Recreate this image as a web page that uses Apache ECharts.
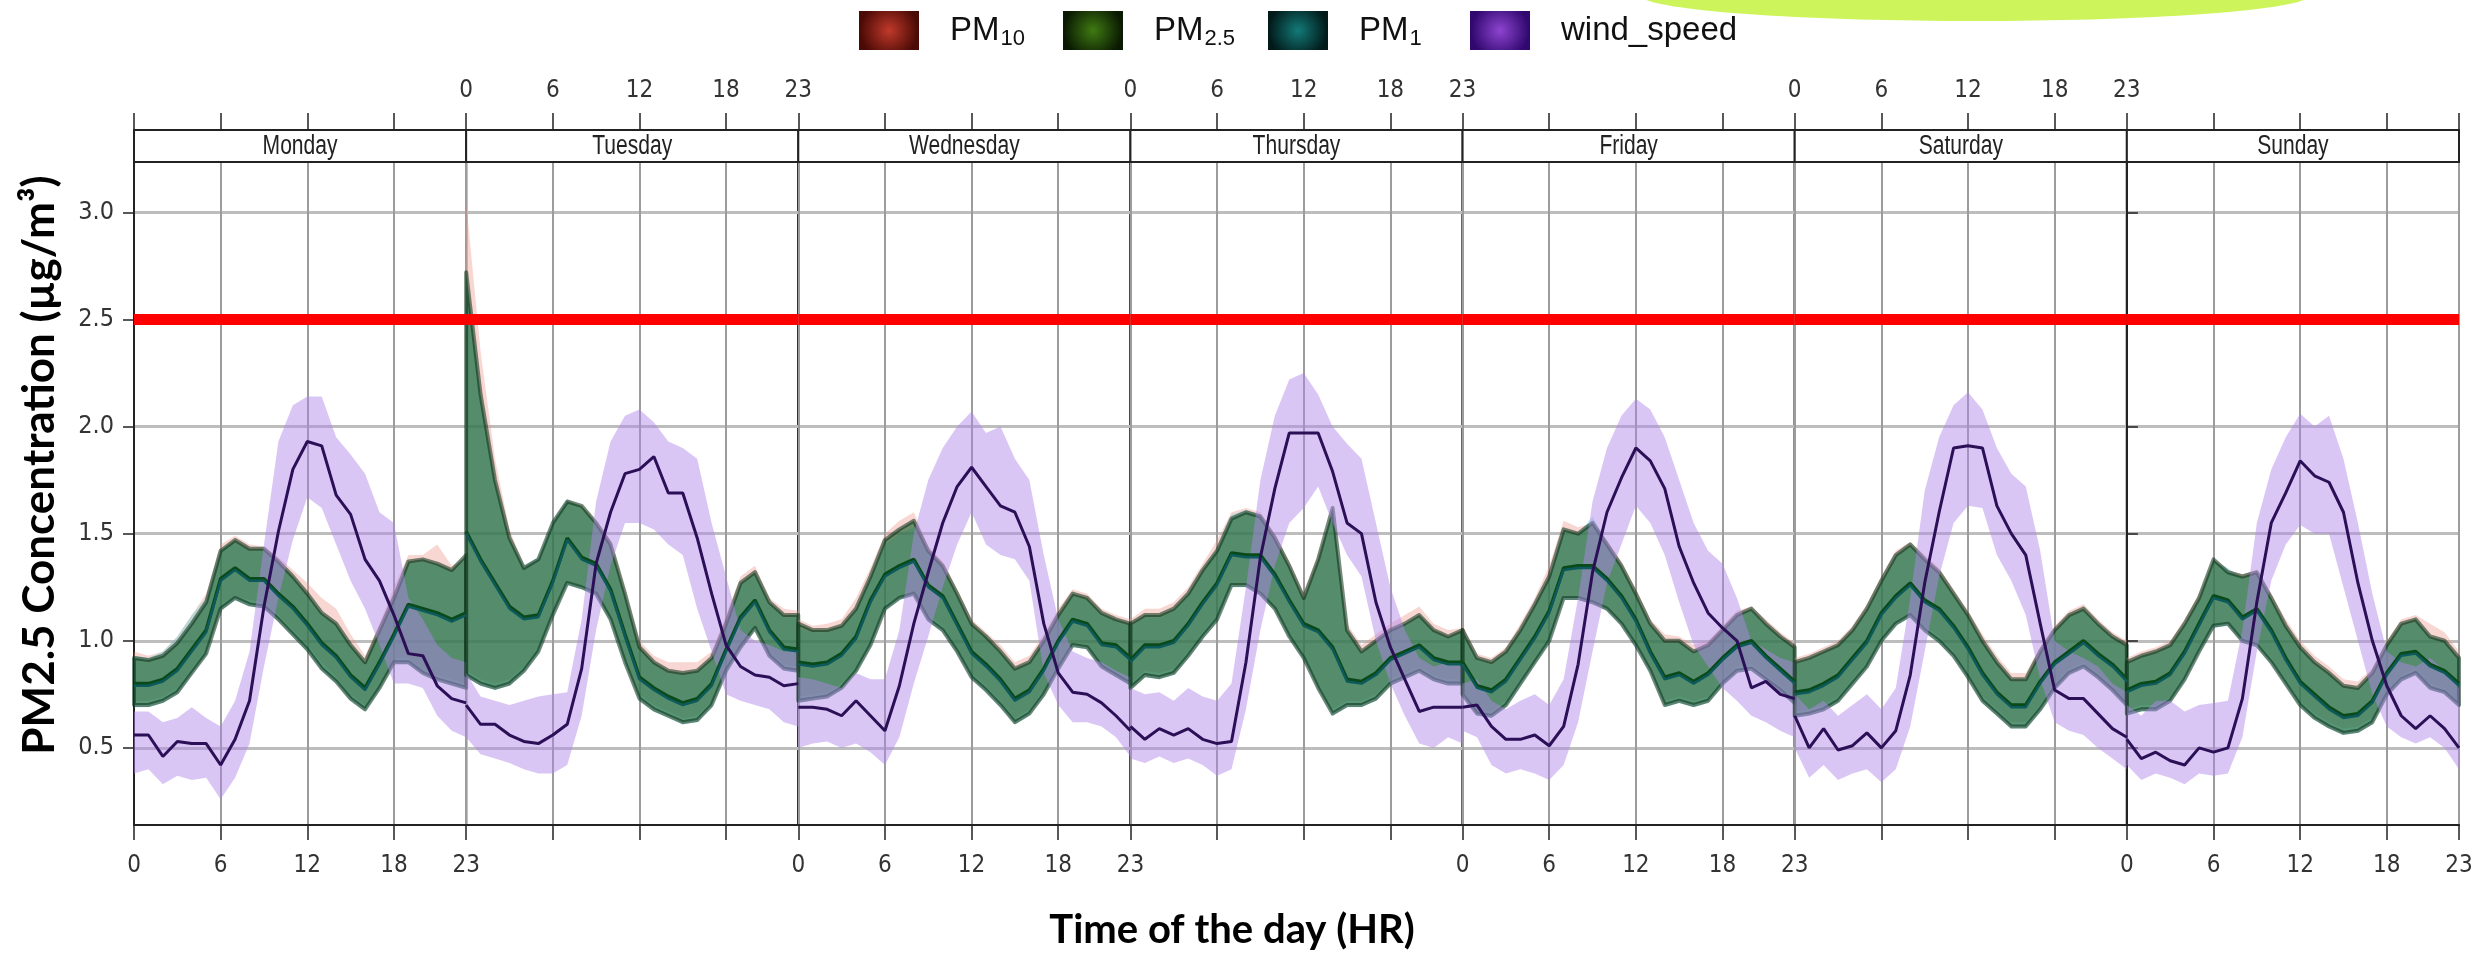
<!DOCTYPE html>
<html lang="en">
  <head>
    <meta charset="UTF-8" />
    <title>PM diurnal variation by weekday</title>
    <style>
      html, body { margin: 0; padding: 0; background: #fff; }
      #chart { width: 2476px; height: 954px; }
    </style>
  </head>
  <body>
    <div id="chart"></div>

    <script src="https://cdn.jsdelivr.net/npm/echarts@6/dist/echarts.min.js"></script>
    <script>
      // categories / ticks
      const days = ['Monday', 'Tuesday', 'Wednesday', 'Thursday', 'Friday', 'Saturday', 'Sunday'];
      const hours = [0, 1, 2, 3, 4, 5, 6, 7, 8, 9, 10, 11, 12, 13, 14, 15, 16, 17, 18, 19, 20, 21, 22, 23];
      const yTicks = [0.5, 1.0, 1.5, 2.0, 2.5, 3.0];
      const limitValue = 2.5;

      // PM2.5 mean and confidence band, one row per day (hour 0..23)
      const pm25Mean = [
        [0.80,0.80,0.82,0.87,0.96,1.05,1.29,1.34,1.29,1.29,1.22,1.16,1.08,0.99,0.93,0.84,0.78,0.90,1.03,1.17,1.15,1.13,1.10,1.13],
        [1.51,1.38,1.27,1.16,1.11,1.12,1.28,1.48,1.39,1.36,1.24,1.03,0.83,0.78,0.74,0.71,0.73,0.80,0.96,1.11,1.19,1.05,0.97,0.96],
        [0.90,0.89,0.90,0.94,1.02,1.19,1.31,1.35,1.38,1.26,1.21,1.08,0.95,0.89,0.82,0.73,0.77,0.87,1.00,1.10,1.08,0.99,0.98,0.92],
        [0.91,0.98,0.98,1.00,1.08,1.18,1.27,1.41,1.40,1.40,1.31,1.19,1.08,1.05,0.97,0.82,0.81,0.85,0.92,0.95,0.98,0.92,0.90,0.90],
        [0.90,0.79,0.77,0.82,0.92,1.02,1.14,1.34,1.35,1.35,1.29,1.21,1.10,0.95,0.83,0.85,0.81,0.85,0.92,0.98,1.00,0.93,0.87,0.81],
        [0.76,0.77,0.80,0.84,0.92,1.00,1.13,1.21,1.27,1.19,1.15,1.07,0.97,0.85,0.76,0.70,0.70,0.81,0.90,0.95,1.00,0.94,0.89,0.82],
        [0.77,0.80,0.81,0.85,0.95,1.08,1.21,1.19,1.11,1.15,1.05,0.92,0.81,0.75,0.69,0.65,0.66,0.72,0.85,0.94,0.95,0.89,0.86,0.80]
      ];
      const pm25Lo = [
        [0.70,0.70,0.72,0.76,0.85,0.94,1.15,1.20,1.17,1.16,1.10,1.03,0.96,0.87,0.81,0.73,0.68,0.78,0.90,0.90,0.85,0.82,0.80,0.78],
        [0.84,0.80,0.78,0.80,0.86,0.95,1.12,1.27,1.25,1.22,1.10,0.90,0.73,0.68,0.65,0.62,0.63,0.70,0.86,0.97,1.06,0.93,0.87,0.86],
        [0.72,0.73,0.74,0.78,0.86,0.98,1.15,1.20,1.22,1.10,1.05,0.95,0.83,0.77,0.70,0.62,0.66,0.75,0.87,0.98,0.97,0.88,0.84,0.80],
        [0.78,0.84,0.83,0.85,0.93,1.02,1.10,1.26,1.26,1.22,1.15,1.02,0.92,0.78,0.66,0.70,0.70,0.73,0.80,0.83,0.86,0.82,0.80,0.80],
        [0.75,0.66,0.65,0.70,0.80,0.90,1.00,1.20,1.20,1.18,1.15,1.08,0.98,0.86,0.70,0.72,0.70,0.72,0.80,0.86,0.87,0.82,0.77,0.71],
        [0.65,0.66,0.68,0.72,0.80,0.88,1.00,1.08,1.12,1.05,1.00,0.93,0.83,0.72,0.66,0.60,0.60,0.68,0.78,0.85,0.88,0.83,0.77,0.70],
        [0.66,0.68,0.68,0.72,0.82,0.95,1.07,1.08,1.00,0.98,0.90,0.80,0.70,0.64,0.60,0.57,0.58,0.62,0.75,0.82,0.85,0.78,0.76,0.70]
      ];
      const pm25Hi = [
        [0.92,0.91,0.93,0.99,1.08,1.18,1.42,1.47,1.43,1.43,1.37,1.30,1.22,1.13,1.08,0.98,0.90,1.05,1.20,1.37,1.38,1.36,1.33,1.40],
        [2.72,2.15,1.75,1.48,1.34,1.38,1.55,1.65,1.63,1.55,1.45,1.22,0.97,0.90,0.86,0.85,0.86,0.92,1.08,1.27,1.32,1.18,1.12,1.12],
        [1.08,1.05,1.05,1.07,1.15,1.30,1.47,1.52,1.56,1.42,1.35,1.22,1.08,1.02,0.95,0.87,0.90,1.00,1.12,1.22,1.20,1.13,1.10,1.08],
        [1.08,1.12,1.12,1.15,1.22,1.33,1.42,1.57,1.60,1.58,1.48,1.35,1.20,1.38,1.62,1.05,0.95,1.00,1.05,1.08,1.12,1.05,1.02,1.05],
        [1.05,0.92,0.90,0.95,1.05,1.17,1.30,1.52,1.50,1.55,1.45,1.35,1.22,1.08,1.00,1.00,0.95,0.98,1.05,1.12,1.15,1.08,1.02,0.97],
        [0.90,0.92,0.95,0.98,1.05,1.15,1.28,1.40,1.45,1.38,1.32,1.22,1.12,1.00,0.90,0.82,0.82,0.95,1.05,1.12,1.15,1.08,1.02,0.98],
        [0.90,0.93,0.95,0.98,1.08,1.20,1.38,1.32,1.30,1.32,1.20,1.07,0.97,0.90,0.85,0.79,0.78,0.85,0.98,1.08,1.10,1.02,1.00,0.92]
      ];

      // PM10 band
      const pm10Lo = [
        [0.72,0.72,0.74,0.78,0.87,0.96,1.17,1.21,1.19,1.18,1.12,1.05,0.98,0.90,0.83,0.75,0.70,0.80,0.92,0.92,0.87,0.84,0.82,0.80],
        [0.86,0.82,0.80,0.82,0.88,0.97,1.14,1.28,1.26,1.23,1.12,0.92,0.75,0.70,0.67,0.64,0.65,0.72,0.88,0.98,1.07,0.95,0.89,0.88],
        [0.74,0.75,0.76,0.80,0.88,1.00,1.17,1.21,1.23,1.12,1.07,0.97,0.85,0.79,0.72,0.64,0.68,0.77,0.89,0.99,0.98,0.90,0.86,0.82],
        [0.80,0.86,0.85,0.87,0.95,1.04,1.12,1.27,1.27,1.23,1.16,1.04,0.94,0.80,0.68,0.72,0.72,0.75,0.82,0.85,0.88,0.84,0.82,0.82],
        [0.77,0.68,0.67,0.72,0.82,0.92,1.02,1.21,1.21,1.19,1.16,1.09,1.00,0.88,0.72,0.74,0.72,0.74,0.82,0.88,0.89,0.84,0.79,0.73],
        [0.67,0.68,0.70,0.74,0.82,0.90,1.02,1.09,1.13,1.07,1.02,0.95,0.85,0.74,0.68,0.62,0.62,0.70,0.80,0.87,0.90,0.85,0.79,0.72],
        [0.68,0.70,0.70,0.74,0.84,0.97,1.08,1.09,1.02,1.00,0.92,0.82,0.72,0.66,0.62,0.59,0.60,0.64,0.77,0.84,0.87,0.80,0.78,0.72]
      ];
      const pm10Hi = [
        [0.95,0.93,0.95,1.02,1.12,1.22,1.45,1.49,1.45,1.44,1.39,1.33,1.27,1.20,1.15,1.03,0.93,1.08,1.25,1.40,1.40,1.45,1.35,1.38],
        [3.05,2.35,1.85,1.52,1.35,1.38,1.55,1.66,1.63,1.56,1.47,1.24,1.00,0.93,0.90,0.90,0.90,0.95,1.12,1.30,1.35,1.20,1.15,1.14],
        [1.10,1.07,1.08,1.10,1.20,1.34,1.50,1.56,1.60,1.44,1.37,1.24,1.10,1.04,0.98,0.90,0.93,1.03,1.15,1.24,1.22,1.15,1.12,1.10],
        [1.10,1.15,1.15,1.18,1.25,1.36,1.47,1.60,1.62,1.60,1.50,1.37,1.22,1.40,1.60,1.08,0.98,1.03,1.08,1.12,1.16,1.08,1.05,1.06],
        [1.07,0.94,0.92,0.97,1.08,1.20,1.35,1.56,1.53,1.55,1.47,1.37,1.24,1.10,1.03,1.02,0.98,1.00,1.07,1.14,1.16,1.10,1.04,0.99],
        [0.92,0.94,0.97,1.00,1.07,1.17,1.30,1.42,1.46,1.40,1.34,1.24,1.14,1.03,0.93,0.85,0.85,0.97,1.07,1.14,1.17,1.10,1.04,1.00],
        [0.92,0.95,0.97,1.00,1.10,1.22,1.38,1.33,1.31,1.33,1.22,1.10,1.00,0.93,0.88,0.82,0.81,0.87,1.00,1.10,1.12,1.08,1.04,0.95]
      ];

      // PM1 mean and band
      const pm1Mean = [
        [0.79,0.79,0.81,0.86,0.95,1.04,1.28,1.33,1.28,1.28,1.21,1.15,1.07,0.98,0.92,0.83,0.77,0.89,1.02,1.16,1.14,1.12,1.09,1.12],
        [1.50,1.37,1.26,1.15,1.10,1.11,1.27,1.47,1.38,1.35,1.23,1.02,0.82,0.77,0.73,0.70,0.72,0.79,0.95,1.10,1.18,1.04,0.96,0.95],
        [0.89,0.88,0.89,0.93,1.01,1.18,1.30,1.34,1.37,1.25,1.20,1.07,0.94,0.88,0.81,0.72,0.76,0.86,0.99,1.09,1.07,0.98,0.97,0.91],
        [0.90,0.97,0.97,0.99,1.07,1.17,1.26,1.40,1.39,1.39,1.30,1.18,1.07,1.04,0.96,0.81,0.80,0.84,0.91,0.94,0.97,0.91,0.89,0.89],
        [0.89,0.78,0.76,0.81,0.91,1.01,1.13,1.33,1.34,1.34,1.28,1.20,1.09,0.94,0.82,0.84,0.80,0.84,0.91,0.97,0.99,0.92,0.86,0.80],
        [0.75,0.76,0.79,0.83,0.91,0.99,1.12,1.20,1.26,1.18,1.14,1.06,0.96,0.84,0.75,0.69,0.69,0.80,0.89,0.94,0.99,0.93,0.88,0.81],
        [0.76,0.79,0.80,0.84,0.94,1.07,1.20,1.18,1.10,1.14,1.04,0.91,0.80,0.74,0.68,0.64,0.65,0.71,0.84,0.93,0.94,0.88,0.85,0.79]
      ];
      const pm1Lo = [
        [0.69,0.69,0.71,0.75,0.84,0.93,1.14,1.19,1.16,1.15,1.09,1.02,0.95,0.86,0.80,0.72,0.67,0.77,0.89,0.89,0.84,0.81,0.79,0.77],
        [0.83,0.79,0.77,0.79,0.85,0.94,1.11,1.26,1.24,1.21,1.09,0.89,0.72,0.67,0.64,0.61,0.62,0.69,0.85,0.96,1.05,0.92,0.86,0.85],
        [0.71,0.72,0.73,0.77,0.85,0.97,1.14,1.19,1.21,1.09,1.04,0.94,0.82,0.76,0.69,0.61,0.65,0.74,0.86,0.97,0.96,0.87,0.83,0.79],
        [0.77,0.83,0.82,0.84,0.92,1.01,1.09,1.25,1.25,1.21,1.14,1.01,0.91,0.77,0.65,0.69,0.69,0.72,0.79,0.82,0.85,0.81,0.79,0.79],
        [0.74,0.65,0.64,0.69,0.79,0.89,0.99,1.19,1.19,1.17,1.14,1.07,0.97,0.85,0.69,0.71,0.69,0.71,0.79,0.85,0.86,0.81,0.76,0.70],
        [0.64,0.65,0.67,0.71,0.79,0.87,0.99,1.07,1.11,1.04,0.99,0.92,0.82,0.71,0.65,0.59,0.59,0.67,0.77,0.84,0.87,0.82,0.76,0.69],
        [0.65,0.67,0.67,0.71,0.81,0.94,1.06,1.07,0.99,0.97,0.89,0.79,0.69,0.63,0.59,0.56,0.57,0.61,0.74,0.81,0.84,0.77,0.75,0.69]
      ];
      const pm1Hi = [
        [0.93,0.92,0.95,1.02,1.12,1.20,1.43,1.46,1.42,1.42,1.36,1.29,1.21,1.12,1.07,0.97,0.89,1.04,1.19,1.36,1.37,1.35,1.32,1.38],
        [2.70,2.12,1.73,1.47,1.35,1.39,1.56,1.66,1.62,1.54,1.44,1.21,0.96,0.89,0.85,0.84,0.85,0.91,1.07,1.26,1.31,1.17,1.11,1.11],
        [1.06,1.04,1.04,1.06,1.14,1.29,1.45,1.50,1.53,1.41,1.34,1.21,1.07,1.01,0.94,0.86,0.89,0.99,1.11,1.21,1.19,1.12,1.09,1.07],
        [1.07,1.11,1.11,1.14,1.21,1.32,1.43,1.59,1.61,1.59,1.47,1.34,1.19,1.36,1.60,1.04,0.94,0.99,1.04,1.07,1.11,1.04,1.01,1.04],
        [1.04,0.91,0.89,0.94,1.04,1.16,1.29,1.51,1.50,1.58,1.46,1.34,1.21,1.07,0.99,0.99,0.94,0.97,1.04,1.11,1.14,1.07,1.01,0.96],
        [0.89,0.91,0.94,0.97,1.04,1.14,1.27,1.39,1.44,1.37,1.31,1.21,1.11,0.99,0.89,0.81,0.81,0.94,1.04,1.11,1.14,1.07,1.01,0.97],
        [0.89,0.92,0.94,0.97,1.07,1.19,1.37,1.34,1.29,1.31,1.19,1.06,0.96,0.89,0.84,0.78,0.77,0.84,0.97,1.07,1.09,1.01,0.99,0.91]
      ];

      // wind speed mean and band
      const windMean = [
        [0.56,0.56,0.46,0.53,0.52,0.52,0.42,0.54,0.72,1.16,1.51,1.80,1.93,1.91,1.68,1.59,1.38,1.28,1.12,0.94,0.93,0.79,0.73,0.71],
        [0.70,0.61,0.61,0.56,0.53,0.52,0.56,0.61,0.87,1.36,1.60,1.78,1.80,1.86,1.69,1.69,1.48,1.22,0.98,0.88,0.84,0.83,0.79,0.80],
        [0.69,0.69,0.68,0.65,0.72,0.65,0.58,0.79,1.08,1.32,1.55,1.72,1.81,1.72,1.63,1.60,1.44,1.08,0.85,0.76,0.75,0.71,0.65,0.58],
        [0.60,0.54,0.59,0.56,0.59,0.54,0.52,0.53,0.90,1.39,1.71,1.97,1.97,1.97,1.79,1.55,1.50,1.18,0.97,0.82,0.67,0.69,0.69,0.69],
        [0.69,0.70,0.60,0.54,0.54,0.56,0.51,0.60,0.89,1.32,1.60,1.76,1.90,1.84,1.71,1.44,1.27,1.13,1.06,1.00,0.78,0.81,0.75,0.73],
        [0.65,0.50,0.59,0.49,0.51,0.57,0.50,0.58,0.84,1.27,1.60,1.90,1.91,1.90,1.63,1.50,1.40,1.08,0.77,0.73,0.73,0.66,0.59,0.55],
        [0.54,0.45,0.48,0.44,0.42,0.50,0.48,0.50,0.73,1.18,1.55,1.69,1.84,1.77,1.74,1.60,1.27,1.00,0.79,0.65,0.59,0.65,0.59,0.50]
      ];
      const windLo = [
        [0.38,0.40,0.33,0.37,0.35,0.36,0.26,0.36,0.52,0.88,1.20,1.47,1.67,1.62,1.45,1.28,1.15,0.98,0.80,0.80,0.78,0.65,0.58,0.55],
        [0.55,0.47,0.45,0.43,0.40,0.38,0.38,0.42,0.65,1.05,1.35,1.55,1.55,1.52,1.45,1.40,1.15,0.95,0.75,0.72,0.70,0.68,0.62,0.60],
        [0.50,0.52,0.53,0.50,0.52,0.48,0.42,0.55,0.80,1.02,1.25,1.45,1.60,1.45,1.40,1.38,1.28,0.85,0.70,0.62,0.62,0.60,0.55,0.46],
        [0.45,0.43,0.46,0.43,0.45,0.42,0.37,0.40,0.68,1.05,1.35,1.55,1.62,1.72,1.55,1.40,1.30,1.00,0.80,0.65,0.52,0.50,0.55,0.52],
        [0.58,0.55,0.42,0.38,0.40,0.38,0.35,0.42,0.62,0.95,1.27,1.45,1.63,1.55,1.40,1.18,0.98,0.88,0.78,0.72,0.65,0.62,0.58,0.55],
        [0.50,0.36,0.42,0.35,0.38,0.40,0.34,0.40,0.60,0.95,1.30,1.55,1.63,1.62,1.40,1.28,1.12,0.82,0.62,0.58,0.56,0.50,0.45,0.40],
        [0.42,0.35,0.38,0.36,0.33,0.38,0.37,0.38,0.55,0.95,1.28,1.45,1.54,1.50,1.50,1.25,1.00,0.75,0.60,0.55,0.52,0.55,0.50,0.40]
      ];
      const windHi = [
        [0.67,0.67,0.62,0.64,0.69,0.64,0.60,0.72,0.95,1.45,1.93,2.10,2.14,2.14,1.95,1.87,1.78,1.60,1.55,1.20,1.10,0.98,0.92,0.90],
        [0.85,0.74,0.72,0.70,0.72,0.74,0.75,0.76,1.10,1.65,1.93,2.05,2.08,2.02,1.93,1.90,1.85,1.55,1.30,1.05,1.00,0.98,0.95,0.95],
        [0.83,0.82,0.80,0.78,0.85,0.82,0.82,1.05,1.50,1.75,1.90,2.00,2.07,1.97,2.00,1.85,1.75,1.40,1.10,0.95,0.92,0.90,0.86,0.83],
        [0.78,0.75,0.76,0.72,0.78,0.74,0.72,0.80,1.25,1.75,2.05,2.22,2.25,2.15,2.00,1.92,1.85,1.55,1.25,1.05,0.92,0.88,0.90,0.88],
        [0.80,0.82,0.72,0.68,0.72,0.75,0.70,0.82,1.20,1.65,1.90,2.05,2.13,2.08,1.95,1.75,1.55,1.42,1.36,1.20,1.00,0.96,0.92,0.90],
        [0.75,0.68,0.72,0.65,0.70,0.75,0.68,0.78,1.20,1.70,1.95,2.10,2.16,2.08,1.90,1.78,1.72,1.42,1.00,0.95,0.92,0.88,0.80,0.76],
        [0.70,0.65,0.72,0.72,0.67,0.70,0.71,0.72,1.05,1.55,1.80,1.95,2.06,2.00,2.05,1.85,1.55,1.22,0.95,0.90,0.88,0.92,0.86,0.78]
      ];

      // ---- layout (pixels) ----
      const plotLeft = 134;
      const plotRight = 2459;
      const plotTop = 162;
      const plotBottom = 825;
      const stripH = 32;
      const panelW = (plotRight - plotLeft) / days.length;
      const yMin = 0.14;
      const yMax = 3.235;

      const narrow = '"Liberation Sans Narrow", "DejaVu Sans Condensed", sans-serif';
      const axisColor = '#222';

      const myChart = echarts.init(document.getElementById('chart'));

      // band drawn as one polygon through the axes' own scales
      function bandSeries(name, d, lo, hi, fill, stroke, z) {
        return {
          type: 'custom',
          name: name,
          xAxisIndex: d * 2,
          yAxisIndex: d,
          z: z,
          silent: true,
          encode: { x: 0, y: [1, 2] },
          data: hours.map((h, i) => [h, lo[d][i], hi[d][i]]),
          renderItem: function (params, api) {
            if (params.dataIndex !== 0) return null;
            const pts = [];
            hours.forEach((h, i) => pts.push(api.coord([h, hi[d][i]])));
            for (let i = hours.length - 1; i >= 0; i--) pts.push(api.coord([hours[i], lo[d][i]]));
            return {
              type: 'polygon',
              shape: { points: pts },
              style: { fill: fill, stroke: stroke, lineWidth: stroke ? 4 : 0, lineJoin: 'round' },
            };
          },
        };
      }

      function lineSeries(name, d, values, color, width, z) {
        return {
          type: 'line',
          name: name,
          xAxisIndex: d * 2,
          yAxisIndex: d,
          z: z,
          silent: true,
          symbol: 'none',
          data: hours.map((h, i) => [h, values[d][i]]),
          lineStyle: { color: color, width: width },
        };
      }

      const grids = [];
      const xAxes = [];
      const yAxes = [];
      const series = [];
      const graphics = [];

      days.forEach((day, d) => {
        const left = plotLeft + d * panelW;
        grids.push({
          left: left,
          width: panelW,
          top: plotTop,
          height: plotBottom - plotTop,
          show: true,
          borderColor: axisColor,
          borderWidth: 2,
        });

        // bottom axis: labels on Mon, Wed, Fri, Sun
        xAxes.push({
          type: 'value',
          gridIndex: d,
          min: 0,
          max: 23,
          interval: 6,
          position: 'bottom',
          axisLine: { show: true, lineStyle: { color: axisColor, width: 2 } },
          axisTick: { show: true, length: 15, lineStyle: { color: axisColor, width: 1.5 } },
          axisLabel: {
            show: d % 2 === 0,
            margin: 29,
            fontFamily: narrow,
            fontSize: 24,
            color: '#333',
          },
          splitLine: { show: true, lineStyle: { color: '#9c9c9c', width: 2 } },
        });
        // top axis above the strip: labels on Tue, Thu, Sat
        xAxes.push({
          type: 'value',
          gridIndex: d,
          min: 0,
          max: 23,
          interval: 6,
          position: 'top',
          offset: stripH,
          axisLine: { show: true, lineStyle: { color: axisColor, width: 2 } },
          axisTick: { show: true, length: 17, lineStyle: { color: axisColor, width: 1.5 } },
          axisLabel: {
            show: d % 2 === 1,
            margin: 27,
            fontFamily: narrow,
            fontSize: 24,
            color: '#333',
          },
          splitLine: { show: false },
        });

        const isFirst = d === 0;
        const isLast = d === days.length - 1;
        yAxes.push({
          type: 'value',
          gridIndex: d,
          min: yMin,
          max: yMax,
          position: isLast ? 'right' : 'left',
          axisLine: { show: isFirst || isLast, lineStyle: { color: axisColor, width: 2 } },
          axisTick: {
            show: isFirst || isLast,
            length: 11,
            customValues: yTicks,
            lineStyle: { color: axisColor, width: 1.5 },
          },
          axisLabel: {
            show: isFirst,
            customValues: yTicks,
            margin: 20,
            fontFamily: narrow,
            fontSize: 25,
            color: '#333',
            formatter: (v) => v.toFixed(1),
          },
          splitLine: { show: true, lineStyle: { color: '#bdbdbd', width: 3 } },
        });

        series.push(bandSeries('PM10', d, pm10Lo, pm10Hi, 'rgba(235,140,130,0.35)', null, 2));
        series.push(bandSeries('PM1', d, pm1Lo, pm1Hi, 'rgba(90,210,210,0.38)', null, 2));
        series.push(bandSeries('PM2.5', d, pm25Lo, pm25Hi, 'rgba(22,95,45,0.62)', 'rgba(8,45,20,0.55)', 2));
        series.push(bandSeries('wind_speed', d, windLo, windHi, 'rgba(177,133,233,0.47)', null, 2));
        series.push(lineSeries('PM2.5 mean', d, pm25Mean, '#0a4a18', 3.5, 3));
        series.push(lineSeries('PM1 mean', d, pm1Mean, '#0d5a5c', 2.5, 3));
        const wind = lineSeries('wind mean', d, windMean, '#2b0f57', 3, 4);
        wind.markLine = {
          silent: true,
          symbol: ['none', 'none'],
          label: { show: false },
          lineStyle: { color: '#ff0000', width: 11, type: 'solid' },
          data: [{ yAxis: limitValue }],
        };
        series.push(wind);

        // strip with the day name
        graphics.push({
          type: 'rect',
          shape: { x: left, y: plotTop - stripH, width: panelW, height: stripH },
          style: { fill: '#fff', stroke: axisColor, lineWidth: 2 },
          z: 1,
        });
        graphics.push({
          type: 'text',
          x: left + panelW / 2,
          y: plotTop - stripH / 2 + 1,
          scaleX: 0.78,
          style: {
            text: day,
            font: '27px "Liberation Sans", Arial, sans-serif',
            fill: '#222',
            textAlign: 'center',
            textVerticalAlign: 'middle',
          },
          z: 2,
        });
      });

      // axis titles
      graphics.push({
        type: 'text',
        x: 40,
        y: 465,
        rotation: Math.PI / 2,
        style: {
          text: 'PM2.5 Concentration (µg/m³)',
          font: 'bold 44px Lato, "Open Sans", sans-serif',
          fill: '#000',
          textAlign: 'center',
          textVerticalAlign: 'middle',
        },
      });
      graphics.push({
        type: 'text',
        x: 1232,
        y: 930,
        style: {
          text: 'Time of the day (HR)',
          font: 'bold 40px Lato, "Open Sans", sans-serif',
          fill: '#000',
          textAlign: 'center',
          textVerticalAlign: 'middle',
        },
      });
      // slide decoration at the top right
      graphics.push({
        type: 'ellipse',
        shape: { cx: 1975, cy: -5, rx: 335, ry: 26 },
        style: { fill: '#cdf55b' },
        z: 0,
      });

      function swatch(inner, outer) {
        return new echarts.graphic.RadialGradient(0.5, 0.5, 0.75, [
          { offset: 0, color: inner },
          { offset: 1, color: outer },
        ]);
      }
      const legendItems = [
        { name: 'PM10', left: 854, color: swatch('#c0392b', '#4a0a05') },
        { name: 'PM2.5', left: 1058, color: swatch('#3f7a12', '#0a1a02') },
        { name: 'PM1', left: 1263, color: swatch('#127a78', '#021a1a') },
        { name: 'wind_speed', left: 1465, color: swatch('#8e44d0', '#30086e') },
      ];
      const legendText = { PM10: '{a|PM}{s|10}', 'PM2.5': '{a|PM}{s|2.5}', PM1: '{a|PM}{s|1}', wind_speed: '{a|wind_speed}' };
      const legendFont = '"Liberation Sans", Arial, sans-serif';
      const legends = legendItems.map((it) => ({
        left: it.left,
        top: 6,
        itemWidth: 60,
        itemHeight: 39,
        selectedMode: false,
        data: [{ name: it.name, icon: 'rect', itemStyle: { color: it.color, borderWidth: 0 } }],
        formatter: (name) => legendText[name],
        textStyle: {
          padding: [0, 0, 0, 26],
          color: '#111',
          rich: {
            a: { fontFamily: legendFont, fontSize: 33, color: '#111' },
            s: { fontFamily: legendFont, fontSize: 22, color: '#111', padding: [16, 0, 0, 1] },
          },
        },
      }));

      const option = {
        animation: false,
        backgroundColor: '#fff',
        legend: legends,
        grid: grids,
        xAxis: xAxes,
        yAxis: yAxes,
        series: series,
        graphic: { elements: graphics },
      };

      myChart.setOption(option);
    </script>
  </body>
</html>
